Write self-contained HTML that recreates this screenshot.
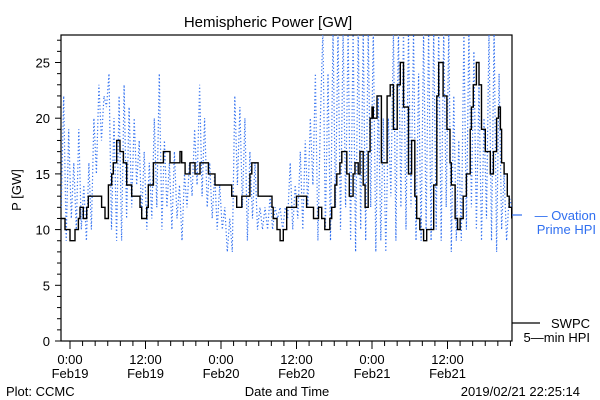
<!DOCTYPE html>
<html><head><meta charset="utf-8"><style>
html,body{margin:0;padding:0;background:#fff;}
svg{display:block;font-family:"Liberation Sans",sans-serif;}
</style></head><body>
<svg id="chart" width="600" height="400" viewBox="0 0 600 400" xmlns="http://www.w3.org/2000/svg">
<defs><clipPath id="plotclip"><rect x="61" y="35" width="451" height="306"/></clipPath></defs>
<text x="268" y="27" font-size="15" text-anchor="middle">Hemispheric Power [GW]</text>
<rect x="61" y="35" width="451" height="306" fill="none" stroke="#000" stroke-width="1.2"/>
<g id="yaxis"></g>
<g id="xaxis"></g>
<text transform="translate(21,190) rotate(-90)" font-size="13" text-anchor="middle">P [GW]</text>
<text x="287" y="396" font-size="13" text-anchor="middle">Date and Time</text>
<text x="6" y="396" font-size="13">Plot: CCMC</text>
<text x="580" y="396" font-size="13" text-anchor="end">2019/02/21 22:25:14</text>
<g clip-path="url(#plotclip)">
<polyline id="blueline" fill="none" stroke="#2f6ff0" stroke-width="1.2" stroke-dasharray="1.2 2.3"/>
<polyline id="blackline" fill="none" stroke="#000" stroke-width="1.4"/>
</g>
<g>
<line x1="512" y1="215" x2="522" y2="215" stroke="#2f6ff0" stroke-width="1.2"/>
<text x="596" y="220" font-size="13" fill="#2f6ff0" text-anchor="end">— Ovation</text>
<text x="596" y="234" font-size="13" fill="#2f6ff0" text-anchor="end">Prime HPI</text>
</g>
<g>
<line x1="512" y1="323" x2="540" y2="323" stroke="#000" stroke-width="1.2"/>
<text x="590" y="328" font-size="13" text-anchor="end">SWPC</text>
<text x="590" y="342" font-size="13" text-anchor="end">5—min HPI</text>
</g>
</svg>
<script>
const blackHours=[-1.5,-1.43,-0.8,0,0.53,0.8,1.33,1.59,2.12,2.65,2.91,4.5,5.03,5.56,6.1,6.62,6.89,7.42,7.95,8.48,9.01,9.8,10.33,11.13,11.4,11.92,12.19,12.45,13.25,14.84,15.1,15.9,16.43,17.49,17.76,18.3,19.08,19.35,19.87,20.67,21.99,22.52,23.05,25.7,26.5,26.77,27.3,28.1,28.6,28.9,29.4,29.9,32.1,32.3,32.9,33.39,33.9,34.45,36.0,36.6,37.6,38.7,39.5,40.0,40.5,41.1,41.3,41.6,42.1,42.4,42.9,43.2,43.7,44.0,44.4,44.8,45.0,45.3,45.8,46.1,46.6,46.9,47.4,47.7,48.0,48.2,48.8,49.2,49.5,49.8,50.4,50.9,51.4,52.0,52.5,53.0,53.8,54.3,54.8,55.1,55.6,56.2,56.7,57.2,57.8,58.3,58.6,58.8,59.3,59.9,60.4,60.6,61.2,61.6,62.0,62.5,63.0,63.6,63.8,64.1,64.6,65.0,65.4,66.0,66.5,66.8,67.3,67.8,68.1,68.4,68.6,69.0,69.5,69.8,70.2];
const blackValues=[11,11,10,9,9,10,11,12,11,12,13,13,12,11,14,15,16,18,17,16,14,13,13,12,11,11,12,14,16,17,17,16,16,17,16,15,16,16,15,16,15,15,14,13,12,12,13,13,15,16,16,13,12,11,10,9,10,12,13,13,12,11,12,11,10,10,11,12,14,15,16,17,17,15,13,13,15,16,15,17,14,12,17,20,21,20,22,22,16,16,22,23,19,23,25,21,15,18,13,11,10,9,10,10,14,22,25,25,22,19,16,14,11,10,11,13,15,19,21,23,25,23,19,17,17,15,17,20,21,19,16,15,13,12,11,12,12,11,10,10,11,18];
const blueHours=[-1.4,-1.0,-0.6,-0.2,0.2,0.6,1.0,1.4,1.8,2.2,2.6,3.0,3.4,3.8,4.2,4.6,5.0,5.4,5.8,6.2,6.6,7.0,7.4,7.8,8.2,8.6,9.0,9.4,9.8,10.2,10.6,11.0,11.4,11.8,12.2,12.6,13.0,13.4,13.8,14.2,14.6,15.0,15.4,15.8,16.2,16.6,17.0,17.4,17.8,18.2,18.6,19.0,19.4,19.8,20.2,20.6,21.0,21.4,21.8,22.2,22.6,23.0,23.4,23.8,24.2,24.6,25.0,25.4,25.8,26.2,26.6,27.0,27.4,27.8,28.2,28.6,29.0,29.4,29.8,30.2,30.6,31.0,31.4,31.8,32.2,32.6,33.0,33.4,33.8,34.2,34.6,35.0,35.4,35.8,36.2,36.6,37.0,37.4,37.8,38.2,38.6,39.0,39.4,39.8,40.2,40.6,41.0,41.4,41.8,42.2,42.6,43.0,43.4,43.8,44.2,44.6,45.0,45.4,45.8,46.2,46.6,47.0,47.4,47.8,48.2,48.6,49.0,49.4,49.8,50.2,50.6,51.0,51.4,51.8,52.2,52.6,53.0,53.4,53.8,54.2,54.6,55.0,55.4,55.8,56.2,56.6,57.0,57.4,57.8,58.2,58.6,59.0,59.4,59.8,60.2,60.6,61.0,61.4,61.8,62.2,62.6,63.0,63.4,63.8,64.2,64.6,65.0,65.4,65.8,66.2,66.6,67.0,67.4,67.8,68.2,68.6,69.0,69.4,69.8,70.2];
const blueValues=[12,22,9,19,11,16,10,19,10,14,
9,16,10,20,15,23,18,22,21,24,
10,20,9,22,9,23,11,21,12,20,
14,18,11,17,10,16,11,20,12,24,
10,18,12,16,10,17,11,14,9,15,
12,16,13,19,14,23,13,20,12,16,
11,15,10,14,10,12,8,11,8,22,
14,21,12,20,9,17,11,16,10,12,
10,12,10,13,10,12,11,12,10,12,
11,16,10,14,11,17,10,18,12,20,
14,24,9,20,28,10,24,9,28,12,
28,10,28,12,28,9,28,8,28,10,
28,9,28,12,28,8,22,9,20,8,
20,13,28,9,28,12,28,10,28,12,
28,9,24,9,28,10,28,9,28,10,
28,9,28,12,28,8,22,9,18,9,
28,10,28,12,26,10,23,9,20,11,
28,9,28,8,24,10,15,9,13,12];
const yTickLabels=["0","5","10","15","20","25"];
const xTickHours=[0,12,24,36,48,60];
const xTickTimes=["0:00","12:00","0:00","12:00","0:00","12:00"];
const xTickDates=["Feb19","Feb19","Feb20","Feb20","Feb21","Feb21"];
const NS="http://www.w3.org/2000/svg";
function xs(h){return 70+h*75.5/12;}
function ys(v){return 341-v*11.14;}
function mk(tag,attrs,parent){const e=document.createElementNS(NS,tag);for(const k in attrs)e.setAttribute(k,attrs[k]);parent.appendChild(e);return e;}
const ya=document.getElementById('yaxis');
for(let v=0;v<=27;v++){
  const len=(v%5===0)?6:4;
  const t=mk('line',{x1:61-len,y1:ys(v),x2:61,y2:ys(v),stroke:'#000','stroke-width':1},ya);
  
  
}
yTickLabels.forEach(function(l){
  const t=mk('text',{x:50,y:ys(+l)+5,'font-size':13,'text-anchor':'end'},ya);
  t.textContent=l;
  
  
});
const xa=document.getElementById('xaxis');
for(let h=0;h<=70;h+=2){
  const len=(h%12===0)?8:5;
  const t=mk('line',{x1:xs(h),y1:341,x2:xs(h),y2:341+len,stroke:'#000','stroke-width':1},xa);
  
  
}
xTickHours.forEach(function(h,i){
  const a=mk('text',{x:xs(h),y:364,'font-size':13,'text-anchor':'middle'},xa);
  a.textContent=xTickTimes[i];
  
  
  const b=mk('text',{x:xs(h),y:378,'font-size':13,'text-anchor':'middle'},xa);
  b.textContent=xTickDates[i];
  
  
});
let bp=[];
for(let i=0;i<blackHours.length;i++){
  if(i>0)bp.push(xs(blackHours[i]).toFixed(1)+','+ys(blackValues[i-1]).toFixed(1));
  bp.push(xs(blackHours[i]).toFixed(1)+','+ys(blackValues[i]).toFixed(1));
}
document.getElementById('blackline').setAttribute('points',bp.join(' '));
document.getElementById('blueline').setAttribute('points',blueHours.map(function(h,i){return xs(h).toFixed(1)+','+ys(blueValues[i]).toFixed(1);}).join(' '));
</script>
</body></html>
